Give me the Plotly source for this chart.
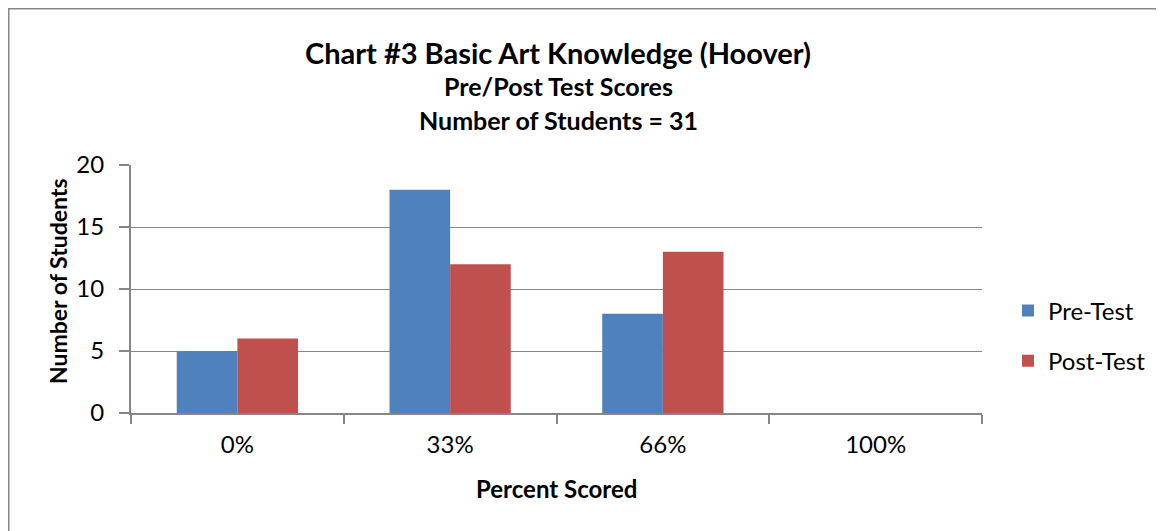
import plotly.graph_objects as go

categories = ["0%", "33%", "66%", "100%"]
pre_test = [5, 18, 8, 0]
post_test = [6, 12, 13, 0]
y_ticks = [0, 5, 10, 15, 20]

FONT = "Lato"
W, H = 1164, 531
OFF = 8  # page body margin offset
# plot area in screen pixels
PX0, PX1, PY0, PY1 = 131, 982, 165, 413
L = PX0 - OFF
T = PY0 - OFF
R = W - (PX1 - OFF)
B = H - (PY1 - OFF)
PW = W - L - R
PH = H - T - B


def ax(sx):
    return (sx - OFF - L) / PW


def ay(sy):
    return (H - B - (sy - OFF)) / PH


fig = go.Figure()
fig.add_trace(go.Bar(name="Pre-Test", x=categories, y=pre_test, legendgroup="a",
                     marker=dict(color="#4F81BD", line=dict(width=0))))
fig.add_trace(go.Bar(name="Post-Test", x=categories, y=post_test, legendgroup="b",
                     marker=dict(color="#C0504D", line=dict(width=0))))

fig.update_layout(
    width=W, height=H,
    margin=dict(l=L, r=R, t=T, b=B),
    paper_bgcolor="white", plot_bgcolor="white",
    barmode="group", bargap=0.43, bargroupgap=0,
    font=dict(family=FONT, color="black", size=24),
    showlegend=True,
    legend=dict(x=ax(1008), y=ay(336), xanchor="left", yanchor="middle",
                font=dict(size=24, family=FONT), tracegroupgap=16,
                bgcolor="rgba(0,0,0,0)"),
    xaxis=dict(
        showline=True, linecolor="#868686", linewidth=2,
        ticks="outside", ticklen=9, tickcolor="#868686", tickwidth=2,
        tickson="boundaries", tickfont=dict(size=24, family=FONT),
        ticklabelstandoff=9,
        showgrid=False, zeroline=False,
    ),
    yaxis=dict(
        range=[0, 20], tickvals=y_ticks,
        showline=True, linecolor="#868686", linewidth=2,
        ticks="outside", ticklen=10, tickcolor="#868686", tickwidth=2,
        ticklabelstandoff=10,
        showgrid=True, gridcolor="#868686", gridwidth=1,
        zeroline=False, tickfont=dict(size=24, family=FONT),
    ),
)

anns = [
    ("<b>Chart #3 Basic Art Knowledge (Hoover)</b>", 558, 53, 29),
    ("<b>Pre/Post Test Scores</b>", 558, 86, 25),
    ("<b>Number of Students = 31</b>", 558, 120, 25),
    ("<b>Percent Scored</b>", 556, 488, 24),
]
for text, x, y, s in anns:
    fig.add_annotation(text=text, x=ax(x), y=ay(y), xref="paper", yref="paper",
                       showarrow=False, xanchor="center", yanchor="middle",
                       font=dict(size=s, family=FONT, color="black"))
fig.add_annotation(text="<b>Number of Students</b>", x=ax(58), y=ay(281), xref="paper", yref="paper",
                   showarrow=False, textangle=-90, xanchor="center", yanchor="middle",
                   font=dict(size=23, family=FONT, color="black"))

# outer chart border (left/top visible)
fig.add_shape(type="rect", xref="paper", yref="paper",
              x0=ax(OFF), x1=ax(W + 40), y0=ay(H + 40), y1=ay(OFF),
              line=dict(color="#868686", width=3), layer="below")

fig.write_html("out.html")
